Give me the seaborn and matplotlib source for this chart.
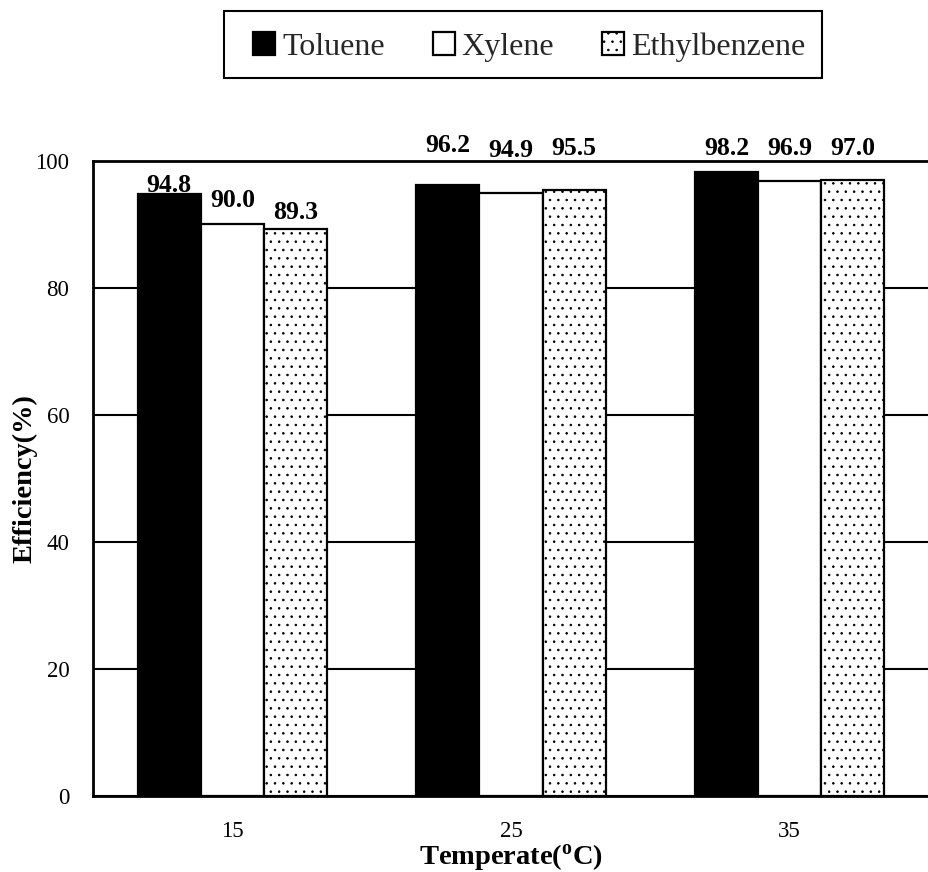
import numpy as np
import pandas as pd
import matplotlib
matplotlib.use("Agg")
import matplotlib.pyplot as plt
from matplotlib.patches import Rectangle
from matplotlib.ticker import FixedLocator
import seaborn as sns

# ---- data -------------------------------------------------------------
temperatures = ["15", "25", "35"]
compounds = ["Toluene", "Xylene", "Ethylbenzene"]
toluene = [94.8, 96.2, 98.2]
xylene = [90.0, 94.9, 96.9]
ethylbenzene = [89.3, 95.5, 97.0]
y_ticks = [0, 20, 40, 60, 80, 100]

# baseline heights (data units) of the value labels, per compound / temperature
label_base = [
    [95.1, 101.4, 100.9],
    [92.8, 100.6, 100.9],
    [90.9, 100.9, 100.9],
]

df = pd.DataFrame({
    "Temperature": temperatures * 3,
    "Compound": np.repeat(compounds, len(temperatures)),
    "Efficiency": toluene + xylene + ethylbenzene,
})

# ---- style ------------------------------------------------------------
sns.set_theme(style="white")
plt.rcParams["font.family"] = ["Liberation Serif", "DejaVu Serif"]
plt.rcParams["mathtext.fontset"] = "custom"
plt.rcParams["mathtext.rm"] = "Liberation Serif"
plt.rcParams["mathtext.bf"] = "Liberation Serif:bold"
plt.rcParams["hatch.linewidth"] = 0.6
plt.rcParams["hatch.color"] = "black"

W, H = 929, 872
fig = plt.figure(figsize=(W / 100, H / 100), dpi=100)
ax = fig.add_axes([93 / W, 1 - 796 / H, (W - 93) / W, (796 - 161) / H])

sns.barplot(
    data=df, x="Temperature", y="Efficiency", hue="Compound",
    order=temperatures, hue_order=compounds,
    palette=["black", "white", "white"],
    edgecolor="black", linewidth=1.6, width=0.68, saturation=1,
    legend=False, ax=ax, zorder=3,
)

# dotted fill for ethylbenzene
for p in ax.containers[2]:
    p.set_hatch("..")

# value labels
for ci, cont in enumerate(ax.containers):
    for ti, p in enumerate(cont):
        val = p.get_height()
        ax.text(p.get_x() + p.get_width() / 2, label_base[ci][ti], f"{val:.1f}",
                ha="center", va="baseline", fontsize=18.5, fontweight="bold",
                color="black", clip_on=False, zorder=5)

# axes
ax.set_ylim(0, 100)
ax.set_xlim(-0.5, 2.5)
ax.set_yticks(y_ticks)
ax.yaxis.grid(True, color="black", linewidth=1.5, zorder=0)
ax.set_axisbelow(True)
for s in ["left", "bottom", "top"]:
    ax.spines[s].set_visible(True)
    ax.spines[s].set_color("black")
    ax.spines[s].set_linewidth(2.0)
ax.spines["right"].set_visible(False)

ax.tick_params(axis="y", length=0, pad=17, labelsize=16.5, colors="black")
ax.tick_params(axis="x", which="major", length=0, pad=18, labelsize=16.5, colors="black")
ax.xaxis.set_minor_locator(FixedLocator([0.5, 1.5]))
ax.tick_params(axis="x", which="minor", direction="in", length=5, width=1.2, color="black")

ax.set_xlabel(r"Temperate($\mathbf{^{o}}$C)", fontsize=20.5, fontweight="bold",
              labelpad=0, color="black")
ax.set_ylabel("Efficiency(%)", fontsize=20.5, fontweight="bold", color="black")
ax.yaxis.label.set_verticalalignment("center")
ax.yaxis.set_label_coords((25 - 93) / (W - 93), 0.5)

# legend: frameless entries inside a drawn box
handles = [cont[0] for cont in ax.containers]
leg = fig.legend(
    handles=handles, labels=compounds, loc="center left",
    bbox_to_anchor=(253 / W, 1 - 47 / H), ncol=3, fontsize=23,
    frameon=False, borderpad=0, borderaxespad=0,
    handlelength=0.69, handleheight=0.69,
    handletextpad=0.22, columnspacing=1.5,
)
fig.add_artist(Rectangle((224 / W, 1 - 78 / H), 598 / W, 67 / H,
                         transform=fig.transFigure, fill=False,
                         edgecolor="black", linewidth=1.5))

fig.savefig("out.png", dpi=100)
